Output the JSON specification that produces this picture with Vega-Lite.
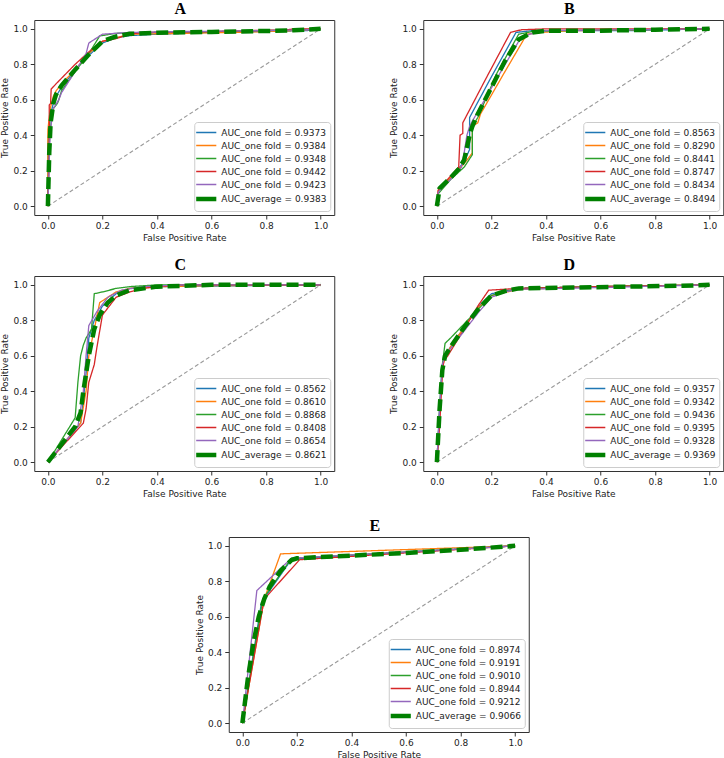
{
"$schema":"https://vega.github.io/schema/vega-lite/v6.json",
"padding":{"left":0,"top":0,"right":0,"bottom":0},
"datasets":{
"diag":[{"x":0,"y":0},{"x":1,"y":1}],
"roc":[
{"p":"A","k":0,"x":0,"y":0},{"p":"A","k":0,"x":0,"y":0.35},{"p":"A","k":0,"x":0.005,"y":0.45},{"p":"A","k":0,"x":0.01,"y":0.52},{"p":"A","k":0,"x":0.02,"y":0.58},{"p":"A","k":0,"x":0.03,"y":0.62},{"p":"A","k":0,"x":0.05,"y":0.67},{"p":"A","k":0,"x":0.1,"y":0.77},{"p":"A","k":0,"x":0.15,"y":0.85},{"p":"A","k":0,"x":0.2,"y":0.92},{"p":"A","k":0,"x":0.25,"y":0.95},{"p":"A","k":0,"x":0.3,"y":0.962},{"p":"A","k":0,"x":0.4,"y":0.97},{"p":"A","k":0,"x":0.6,"y":0.98},{"p":"A","k":0,"x":0.8,"y":0.985},{"p":"A","k":0,"x":0.95,"y":0.99},{"p":"A","k":0,"x":1,"y":1},
{"p":"A","k":1,"x":0,"y":0},{"p":"A","k":1,"x":0,"y":0.43},{"p":"A","k":1,"x":0.005,"y":0.5},{"p":"A","k":1,"x":0.01,"y":0.56},{"p":"A","k":1,"x":0.02,"y":0.62},{"p":"A","k":1,"x":0.03,"y":0.65},{"p":"A","k":1,"x":0.05,"y":0.69},{"p":"A","k":1,"x":0.1,"y":0.77},{"p":"A","k":1,"x":0.15,"y":0.86},{"p":"A","k":1,"x":0.2,"y":0.93},{"p":"A","k":1,"x":0.25,"y":0.95},{"p":"A","k":1,"x":0.3,"y":0.97},{"p":"A","k":1,"x":0.5,"y":0.975},{"p":"A","k":1,"x":0.7,"y":0.98},{"p":"A","k":1,"x":0.9,"y":0.99},{"p":"A","k":1,"x":1,"y":1},
{"p":"A","k":2,"x":0,"y":0},{"p":"A","k":2,"x":0.003,"y":0.2},{"p":"A","k":2,"x":0.005,"y":0.35},{"p":"A","k":2,"x":0.01,"y":0.45},{"p":"A","k":2,"x":0.02,"y":0.55},{"p":"A","k":2,"x":0.035,"y":0.58},{"p":"A","k":2,"x":0.04,"y":0.6},{"p":"A","k":2,"x":0.05,"y":0.65},{"p":"A","k":2,"x":0.1,"y":0.76},{"p":"A","k":2,"x":0.15,"y":0.86},{"p":"A","k":2,"x":0.19,"y":0.96},{"p":"A","k":2,"x":0.25,"y":0.975},{"p":"A","k":2,"x":0.4,"y":0.98},{"p":"A","k":2,"x":0.6,"y":0.985},{"p":"A","k":2,"x":0.8,"y":0.99},{"p":"A","k":2,"x":1,"y":1},
{"p":"A","k":3,"x":0,"y":0},{"p":"A","k":3,"x":0.005,"y":0.3},{"p":"A","k":3,"x":0.005,"y":0.57},{"p":"A","k":3,"x":0.01,"y":0.58},{"p":"A","k":3,"x":0.012,"y":0.66},{"p":"A","k":3,"x":0.03,"y":0.69},{"p":"A","k":3,"x":0.1,"y":0.8},{"p":"A","k":3,"x":0.15,"y":0.87},{"p":"A","k":3,"x":0.2,"y":0.93},{"p":"A","k":3,"x":0.25,"y":0.945},{"p":"A","k":3,"x":0.3,"y":0.97},{"p":"A","k":3,"x":0.35,"y":0.98},{"p":"A","k":3,"x":0.6,"y":0.985},{"p":"A","k":3,"x":0.88,"y":0.995},{"p":"A","k":3,"x":0.9,"y":1},{"p":"A","k":3,"x":1,"y":1},
{"p":"A","k":4,"x":0,"y":0},{"p":"A","k":4,"x":0.003,"y":0.15},{"p":"A","k":4,"x":0.008,"y":0.4},{"p":"A","k":4,"x":0.015,"y":0.5},{"p":"A","k":4,"x":0.02,"y":0.55},{"p":"A","k":4,"x":0.04,"y":0.6},{"p":"A","k":4,"x":0.05,"y":0.64},{"p":"A","k":4,"x":0.1,"y":0.76},{"p":"A","k":4,"x":0.14,"y":0.86},{"p":"A","k":4,"x":0.15,"y":0.92},{"p":"A","k":4,"x":0.2,"y":0.97},{"p":"A","k":4,"x":0.3,"y":0.98},{"p":"A","k":4,"x":0.5,"y":0.985},{"p":"A","k":4,"x":0.8,"y":0.99},{"p":"A","k":4,"x":0.95,"y":0.995},{"p":"A","k":4,"x":1,"y":1},
{"p":"A","k":5,"x":0,"y":0},{"p":"A","k":5,"x":0.005,"y":0.3},{"p":"A","k":5,"x":0.01,"y":0.47},{"p":"A","k":5,"x":0.02,"y":0.58},{"p":"A","k":5,"x":0.03,"y":0.63},{"p":"A","k":5,"x":0.05,"y":0.68},{"p":"A","k":5,"x":0.1,"y":0.77},{"p":"A","k":5,"x":0.15,"y":0.855},{"p":"A","k":5,"x":0.2,"y":0.93},{"p":"A","k":5,"x":0.25,"y":0.957},{"p":"A","k":5,"x":0.3,"y":0.972},{"p":"A","k":5,"x":0.4,"y":0.978},{"p":"A","k":5,"x":0.6,"y":0.983},{"p":"A","k":5,"x":0.8,"y":0.988},{"p":"A","k":5,"x":0.9,"y":0.992},{"p":"A","k":5,"x":1,"y":1},

{"p":"B","k":0,"x":0,"y":0},{"p":"B","k":0,"x":0.005,"y":0.08},{"p":"B","k":0,"x":0.05,"y":0.16},{"p":"B","k":0,"x":0.1,"y":0.25},{"p":"B","k":0,"x":0.12,"y":0.32},{"p":"B","k":0,"x":0.12,"y":0.5},{"p":"B","k":0,"x":0.2,"y":0.73},{"p":"B","k":0,"x":0.29,"y":0.98},{"p":"B","k":0,"x":0.35,"y":0.99},{"p":"B","k":0,"x":0.7,"y":0.99},{"p":"B","k":0,"x":1,"y":1},
{"p":"B","k":1,"x":0,"y":0},{"p":"B","k":1,"x":0.005,"y":0.09},{"p":"B","k":1,"x":0.05,"y":0.16},{"p":"B","k":1,"x":0.1,"y":0.24},{"p":"B","k":1,"x":0.13,"y":0.3},{"p":"B","k":1,"x":0.13,"y":0.45},{"p":"B","k":1,"x":0.15,"y":0.47},{"p":"B","k":1,"x":0.16,"y":0.52},{"p":"B","k":1,"x":0.25,"y":0.76},{"p":"B","k":1,"x":0.33,"y":0.97},{"p":"B","k":1,"x":0.38,"y":0.98},{"p":"B","k":1,"x":0.5,"y":0.99},{"p":"B","k":1,"x":1,"y":1},
{"p":"B","k":2,"x":0,"y":0},{"p":"B","k":2,"x":0.005,"y":0.07},{"p":"B","k":2,"x":0.05,"y":0.15},{"p":"B","k":2,"x":0.1,"y":0.22},{"p":"B","k":2,"x":0.13,"y":0.29},{"p":"B","k":2,"x":0.13,"y":0.45},{"p":"B","k":2,"x":0.15,"y":0.5},{"p":"B","k":2,"x":0.22,"y":0.75},{"p":"B","k":2,"x":0.3,"y":0.97},{"p":"B","k":2,"x":0.35,"y":0.985},{"p":"B","k":2,"x":0.45,"y":0.99},{"p":"B","k":2,"x":1,"y":1},
{"p":"B","k":3,"x":0,"y":0},{"p":"B","k":3,"x":0.005,"y":0.09},{"p":"B","k":3,"x":0.05,"y":0.17},{"p":"B","k":3,"x":0.08,"y":0.22},{"p":"B","k":3,"x":0.085,"y":0.4},{"p":"B","k":3,"x":0.095,"y":0.41},{"p":"B","k":3,"x":0.095,"y":0.47},{"p":"B","k":3,"x":0.18,"y":0.72},{"p":"B","k":3,"x":0.27,"y":0.98},{"p":"B","k":3,"x":0.31,"y":0.995},{"p":"B","k":3,"x":0.4,"y":1},{"p":"B","k":3,"x":1,"y":1},
{"p":"B","k":4,"x":0,"y":0},{"p":"B","k":4,"x":0.005,"y":0.08},{"p":"B","k":4,"x":0.05,"y":0.15},{"p":"B","k":4,"x":0.09,"y":0.22},{"p":"B","k":4,"x":0.1,"y":0.3},{"p":"B","k":4,"x":0.11,"y":0.4},{"p":"B","k":4,"x":0.12,"y":0.45},{"p":"B","k":4,"x":0.13,"y":0.48},{"p":"B","k":4,"x":0.22,"y":0.72},{"p":"B","k":4,"x":0.3,"y":0.93},{"p":"B","k":4,"x":0.34,"y":0.97},{"p":"B","k":4,"x":0.4,"y":0.99},{"p":"B","k":4,"x":1,"y":1},
{"p":"B","k":5,"x":0,"y":0},{"p":"B","k":5,"x":0.01,"y":0.1},{"p":"B","k":5,"x":0.05,"y":0.16},{"p":"B","k":5,"x":0.08,"y":0.21},{"p":"B","k":5,"x":0.1,"y":0.26},{"p":"B","k":5,"x":0.12,"y":0.4},{"p":"B","k":5,"x":0.13,"y":0.45},{"p":"B","k":5,"x":0.15,"y":0.52},{"p":"B","k":5,"x":0.2,"y":0.67},{"p":"B","k":5,"x":0.25,"y":0.82},{"p":"B","k":5,"x":0.3,"y":0.94},{"p":"B","k":5,"x":0.35,"y":0.98},{"p":"B","k":5,"x":0.4,"y":0.99},{"p":"B","k":5,"x":0.6,"y":0.99},{"p":"B","k":5,"x":0.8,"y":0.995},{"p":"B","k":5,"x":1,"y":1},

{"p":"C","k":0,"x":0,"y":0},{"p":"C","k":0,"x":0.12,"y":0.22},{"p":"C","k":0,"x":0.13,"y":0.35},{"p":"C","k":0,"x":0.14,"y":0.5},{"p":"C","k":0,"x":0.15,"y":0.7},{"p":"C","k":0,"x":0.17,"y":0.8},{"p":"C","k":0,"x":0.2,"y":0.88},{"p":"C","k":0,"x":0.25,"y":0.95},{"p":"C","k":0,"x":0.3,"y":0.98},{"p":"C","k":0,"x":0.4,"y":0.99},{"p":"C","k":0,"x":1,"y":1},
{"p":"C","k":1,"x":0,"y":0},{"p":"C","k":1,"x":0.12,"y":0.22},{"p":"C","k":1,"x":0.14,"y":0.4},{"p":"C","k":1,"x":0.15,"y":0.6},{"p":"C","k":1,"x":0.17,"y":0.75},{"p":"C","k":1,"x":0.19,"y":0.9},{"p":"C","k":1,"x":0.25,"y":0.96},{"p":"C","k":1,"x":0.3,"y":0.98},{"p":"C","k":1,"x":0.4,"y":0.99},{"p":"C","k":1,"x":0.6,"y":0.995},{"p":"C","k":1,"x":1,"y":1},
{"p":"C","k":2,"x":0,"y":0},{"p":"C","k":2,"x":0.1,"y":0.25},{"p":"C","k":2,"x":0.11,"y":0.45},{"p":"C","k":2,"x":0.12,"y":0.6},{"p":"C","k":2,"x":0.13,"y":0.66},{"p":"C","k":2,"x":0.14,"y":0.7},{"p":"C","k":2,"x":0.16,"y":0.75},{"p":"C","k":2,"x":0.17,"y":0.95},{"p":"C","k":2,"x":0.2,"y":0.96},{"p":"C","k":2,"x":0.25,"y":0.98},{"p":"C","k":2,"x":0.3,"y":0.99},{"p":"C","k":2,"x":0.4,"y":1},{"p":"C","k":2,"x":1,"y":1},
{"p":"C","k":3,"x":0,"y":0},{"p":"C","k":3,"x":0.13,"y":0.22},{"p":"C","k":3,"x":0.14,"y":0.3},{"p":"C","k":3,"x":0.15,"y":0.45},{"p":"C","k":3,"x":0.17,"y":0.55},{"p":"C","k":3,"x":0.18,"y":0.65},{"p":"C","k":3,"x":0.2,"y":0.83},{"p":"C","k":3,"x":0.22,"y":0.87},{"p":"C","k":3,"x":0.25,"y":0.93},{"p":"C","k":3,"x":0.3,"y":0.96},{"p":"C","k":3,"x":0.35,"y":0.98},{"p":"C","k":3,"x":0.4,"y":0.99},{"p":"C","k":3,"x":0.5,"y":1},{"p":"C","k":3,"x":1,"y":1},
{"p":"C","k":4,"x":0,"y":0},{"p":"C","k":4,"x":0.11,"y":0.2},{"p":"C","k":4,"x":0.13,"y":0.4},{"p":"C","k":4,"x":0.14,"y":0.6},{"p":"C","k":4,"x":0.15,"y":0.77},{"p":"C","k":4,"x":0.18,"y":0.85},{"p":"C","k":4,"x":0.22,"y":0.93},{"p":"C","k":4,"x":0.27,"y":0.97},{"p":"C","k":4,"x":0.35,"y":0.99},{"p":"C","k":4,"x":0.5,"y":1},{"p":"C","k":4,"x":1,"y":1},
{"p":"C","k":5,"x":0,"y":0},{"p":"C","k":5,"x":0.05,"y":0.1},{"p":"C","k":5,"x":0.1,"y":0.2},{"p":"C","k":5,"x":0.12,"y":0.28},{"p":"C","k":5,"x":0.13,"y":0.4},{"p":"C","k":5,"x":0.14,"y":0.5},{"p":"C","k":5,"x":0.15,"y":0.6},{"p":"C","k":5,"x":0.17,"y":0.75},{"p":"C","k":5,"x":0.19,"y":0.83},{"p":"C","k":5,"x":0.22,"y":0.9},{"p":"C","k":5,"x":0.25,"y":0.94},{"p":"C","k":5,"x":0.3,"y":0.97},{"p":"C","k":5,"x":0.4,"y":0.99},{"p":"C","k":5,"x":0.6,"y":1},{"p":"C","k":5,"x":1,"y":1},

{"p":"D","k":0,"x":0,"y":0},{"p":"D","k":0,"x":0.01,"y":0.3},{"p":"D","k":0,"x":0.02,"y":0.55},{"p":"D","k":0,"x":0.03,"y":0.6},{"p":"D","k":0,"x":0.05,"y":0.65},{"p":"D","k":0,"x":0.1,"y":0.76},{"p":"D","k":0,"x":0.16,"y":0.89},{"p":"D","k":0,"x":0.2,"y":0.95},{"p":"D","k":0,"x":0.3,"y":0.98},{"p":"D","k":0,"x":0.6,"y":0.99},{"p":"D","k":0,"x":1,"y":1},
{"p":"D","k":1,"x":0,"y":0},{"p":"D","k":1,"x":0.01,"y":0.28},{"p":"D","k":1,"x":0.02,"y":0.53},{"p":"D","k":1,"x":0.03,"y":0.59},{"p":"D","k":1,"x":0.05,"y":0.65},{"p":"D","k":1,"x":0.1,"y":0.76},{"p":"D","k":1,"x":0.15,"y":0.87},{"p":"D","k":1,"x":0.2,"y":0.94},{"p":"D","k":1,"x":0.3,"y":0.975},{"p":"D","k":1,"x":0.6,"y":0.99},{"p":"D","k":1,"x":1,"y":1},
{"p":"D","k":2,"x":0,"y":0},{"p":"D","k":2,"x":0.01,"y":0.3},{"p":"D","k":2,"x":0.02,"y":0.55},{"p":"D","k":2,"x":0.03,"y":0.67},{"p":"D","k":2,"x":0.05,"y":0.7},{"p":"D","k":2,"x":0.1,"y":0.78},{"p":"D","k":2,"x":0.15,"y":0.86},{"p":"D","k":2,"x":0.2,"y":0.94},{"p":"D","k":2,"x":0.25,"y":0.96},{"p":"D","k":2,"x":0.3,"y":0.98},{"p":"D","k":2,"x":0.6,"y":0.99},{"p":"D","k":2,"x":1,"y":1},
{"p":"D","k":3,"x":0,"y":0},{"p":"D","k":3,"x":0.01,"y":0.2},{"p":"D","k":3,"x":0.02,"y":0.5},{"p":"D","k":3,"x":0.025,"y":0.57},{"p":"D","k":3,"x":0.04,"y":0.6},{"p":"D","k":3,"x":0.1,"y":0.75},{"p":"D","k":3,"x":0.15,"y":0.88},{"p":"D","k":3,"x":0.19,"y":0.97},{"p":"D","k":3,"x":0.3,"y":0.98},{"p":"D","k":3,"x":0.6,"y":0.99},{"p":"D","k":3,"x":1,"y":1},
{"p":"D","k":4,"x":0,"y":0},{"p":"D","k":4,"x":0.01,"y":0.3},{"p":"D","k":4,"x":0.02,"y":0.55},{"p":"D","k":4,"x":0.03,"y":0.6},{"p":"D","k":4,"x":0.05,"y":0.64},{"p":"D","k":4,"x":0.1,"y":0.74},{"p":"D","k":4,"x":0.15,"y":0.84},{"p":"D","k":4,"x":0.2,"y":0.93},{"p":"D","k":4,"x":0.25,"y":0.96},{"p":"D","k":4,"x":0.3,"y":0.975},{"p":"D","k":4,"x":0.6,"y":0.985},{"p":"D","k":4,"x":1,"y":1},
{"p":"D","k":5,"x":0,"y":0},{"p":"D","k":5,"x":0.01,"y":0.3},{"p":"D","k":5,"x":0.02,"y":0.52},{"p":"D","k":5,"x":0.03,"y":0.6},{"p":"D","k":5,"x":0.05,"y":0.65},{"p":"D","k":5,"x":0.1,"y":0.76},{"p":"D","k":5,"x":0.15,"y":0.86},{"p":"D","k":5,"x":0.2,"y":0.94},{"p":"D","k":5,"x":0.25,"y":0.965},{"p":"D","k":5,"x":0.3,"y":0.98},{"p":"D","k":5,"x":0.5,"y":0.985},{"p":"D","k":5,"x":0.7,"y":0.99},{"p":"D","k":5,"x":0.9,"y":0.995},{"p":"D","k":5,"x":1,"y":1},

{"p":"E","k":0,"x":0,"y":0},{"p":"E","k":0,"x":0.07,"y":0.68},{"p":"E","k":0,"x":0.18,"y":0.925},{"p":"E","k":0,"x":1,"y":1},
{"p":"E","k":1,"x":0,"y":0},{"p":"E","k":1,"x":0.08,"y":0.7},{"p":"E","k":1,"x":0.14,"y":0.955},{"p":"E","k":1,"x":1,"y":1},
{"p":"E","k":2,"x":0,"y":0},{"p":"E","k":2,"x":0.075,"y":0.7},{"p":"E","k":2,"x":0.18,"y":0.93},{"p":"E","k":2,"x":1,"y":1},
{"p":"E","k":3,"x":0,"y":0},{"p":"E","k":3,"x":0.08,"y":0.7},{"p":"E","k":3,"x":0.21,"y":0.922},{"p":"E","k":3,"x":1,"y":1},
{"p":"E","k":4,"x":0,"y":0},{"p":"E","k":4,"x":0.053,"y":0.748},{"p":"E","k":4,"x":0.18,"y":0.93},{"p":"E","k":4,"x":1,"y":1},
{"p":"E","k":5,"x":0,"y":0},{"p":"E","k":5,"x":0.02,"y":0.25},{"p":"E","k":5,"x":0.04,"y":0.45},{"p":"E","k":5,"x":0.06,"y":0.6},{"p":"E","k":5,"x":0.08,"y":0.7},{"p":"E","k":5,"x":0.1,"y":0.77},{"p":"E","k":5,"x":0.14,"y":0.86},{"p":"E","k":5,"x":0.18,"y":0.92},{"p":"E","k":5,"x":0.2,"y":0.93},{"p":"E","k":5,"x":0.4,"y":0.945},{"p":"E","k":5,"x":0.6,"y":0.96},{"p":"E","k":5,"x":0.8,"y":0.978},{"p":"E","k":5,"x":1,"y":1}
]},
"vconcat":[
{"vconcat":[
{"hconcat":[
{"title":"A","width":300,"height":195,"layer":[
{"data":{"name":"diag"},"mark":{"type":"line","color":"#999","strokeWidth":1.1,"strokeDash":[4,2.5]},"encoding":{"x":{"field":"x","type":"quantitative","scale":{"domain":[-0.05,1.05],"nice":false,"zero":false},"axis":{"title":"False Positive Rate","values":[0,0.2,0.4,0.6,0.8,1],"format":".1f","labelOverlap":false}},"y":{"field":"y","type":"quantitative","scale":{"domain":[-0.05,1.05],"nice":false,"zero":false},"axis":{"title":"True Positive Rate","values":[0,0.2,0.4,0.6,0.8,1],"format":".1f","labelOverlap":false}}}},
{"data":{"name":"roc"},"transform":[{"filter":"datum.p=='A'"}],"mark":{"type":"line"},"encoding":{
"x":{"field":"x","type":"quantitative","axis":{"title":"False Positive Rate","values":[0,0.2,0.4,0.6,0.8,1],"format":".1f","labelOverlap":false}},"y":{"field":"y","type":"quantitative","axis":{"title":"True Positive Rate","values":[0,0.2,0.4,0.6,0.8,1],"format":".1f","labelOverlap":false}},
"order":[{"field":"x"},{"field":"y"}],
"color":{"field":"k","type":"ordinal","scale":{"type":"ordinal","domain":[0,1,2,3,4,5],"range":["#1f77b4","#ff7f0e","#2ca02c","#d62728","#9467bd","#008000"]},"legend":{"title":null,"labelExpr":"['AUC_one fold = 0.9373','AUC_one fold = 0.9384','AUC_one fold = 0.9348','AUC_one fold = 0.9442','AUC_one fold = 0.9423','AUC_average = 0.9383'][datum.value]"}},
"strokeDash":{"field":"k","type":"ordinal","scale":{"type":"ordinal","domain":[0,1,2,3,4,5],"range":[[1,0],[1,0],[1,0],[1,0],[1,0],[12,5]]},"legend":null},
"strokeWidth":{"field":"k","type":"ordinal","scale":{"type":"ordinal","domain":[0,1,2,3,4,5],"range":[1.3,1.3,1.3,1.3,1.3,4.5]},"legend":{"title":null,"labelExpr":"['AUC_one fold = 0.9373','AUC_one fold = 0.9384','AUC_one fold = 0.9348','AUC_one fold = 0.9442','AUC_one fold = 0.9423','AUC_average = 0.9383'][datum.value]"}}}}
]},
{"title":"B","width":300,"height":195,"layer":[
{"data":{"name":"diag"},"mark":{"type":"line","color":"#999","strokeWidth":1.1,"strokeDash":[4,2.5]},"encoding":{"x":{"field":"x","type":"quantitative","scale":{"domain":[-0.05,1.05],"nice":false,"zero":false},"axis":{"title":"False Positive Rate","values":[0,0.2,0.4,0.6,0.8,1],"format":".1f","labelOverlap":false}},"y":{"field":"y","type":"quantitative","scale":{"domain":[-0.05,1.05],"nice":false,"zero":false},"axis":{"title":"True Positive Rate","values":[0,0.2,0.4,0.6,0.8,1],"format":".1f","labelOverlap":false}}}},
{"data":{"name":"roc"},"transform":[{"filter":"datum.p=='B'"}],"mark":{"type":"line"},"encoding":{
"x":{"field":"x","type":"quantitative","axis":{"title":"False Positive Rate","values":[0,0.2,0.4,0.6,0.8,1],"format":".1f","labelOverlap":false}},"y":{"field":"y","type":"quantitative","axis":{"title":"True Positive Rate","values":[0,0.2,0.4,0.6,0.8,1],"format":".1f","labelOverlap":false}},
"order":[{"field":"x"},{"field":"y"}],
"color":{"field":"k","type":"ordinal","scale":{"type":"ordinal","domain":[0,1,2,3,4,5],"range":["#1f77b4","#ff7f0e","#2ca02c","#d62728","#9467bd","#008000"]},"legend":{"title":null,"labelExpr":"['AUC_one fold = 0.8563','AUC_one fold = 0.8290','AUC_one fold = 0.8441','AUC_one fold = 0.8747','AUC_one fold = 0.8434','AUC_average = 0.8494'][datum.value]"}},
"strokeDash":{"field":"k","type":"ordinal","scale":{"type":"ordinal","domain":[0,1,2,3,4,5],"range":[[1,0],[1,0],[1,0],[1,0],[1,0],[12,5]]},"legend":null},
"strokeWidth":{"field":"k","type":"ordinal","scale":{"type":"ordinal","domain":[0,1,2,3,4,5],"range":[1.3,1.3,1.3,1.3,1.3,4.5]},"legend":{"title":null,"labelExpr":"['AUC_one fold = 0.8563','AUC_one fold = 0.8290','AUC_one fold = 0.8441','AUC_one fold = 0.8747','AUC_one fold = 0.8434','AUC_average = 0.8494'][datum.value]"}}}}
]}
],"spacing":54,"resolve":{"scale":{"color":"independent","strokeDash":"independent","strokeWidth":"independent"},"legend":{"color":"independent","strokeDash":"independent","strokeWidth":"independent"}}},
{"hconcat":[
{"title":"C","width":300,"height":195,"layer":[
{"data":{"name":"diag"},"mark":{"type":"line","color":"#999","strokeWidth":1.1,"strokeDash":[4,2.5]},"encoding":{"x":{"field":"x","type":"quantitative","scale":{"domain":[-0.05,1.05],"nice":false,"zero":false},"axis":{"title":"False Positive Rate","values":[0,0.2,0.4,0.6,0.8,1],"format":".1f","labelOverlap":false}},"y":{"field":"y","type":"quantitative","scale":{"domain":[-0.05,1.05],"nice":false,"zero":false},"axis":{"title":"True Positive Rate","values":[0,0.2,0.4,0.6,0.8,1],"format":".1f","labelOverlap":false}}}},
{"data":{"name":"roc"},"transform":[{"filter":"datum.p=='C'"}],"mark":{"type":"line"},"encoding":{
"x":{"field":"x","type":"quantitative","axis":{"title":"False Positive Rate","values":[0,0.2,0.4,0.6,0.8,1],"format":".1f","labelOverlap":false}},"y":{"field":"y","type":"quantitative","axis":{"title":"True Positive Rate","values":[0,0.2,0.4,0.6,0.8,1],"format":".1f","labelOverlap":false}},
"order":[{"field":"x"},{"field":"y"}],
"color":{"field":"k","type":"ordinal","scale":{"type":"ordinal","domain":[0,1,2,3,4,5],"range":["#1f77b4","#ff7f0e","#2ca02c","#d62728","#9467bd","#008000"]},"legend":{"title":null,"labelExpr":"['AUC_one fold = 0.8562','AUC_one fold = 0.8610','AUC_one fold = 0.8868','AUC_one fold = 0.8408','AUC_one fold = 0.8654','AUC_average = 0.8621'][datum.value]"}},
"strokeDash":{"field":"k","type":"ordinal","scale":{"type":"ordinal","domain":[0,1,2,3,4,5],"range":[[1,0],[1,0],[1,0],[1,0],[1,0],[12,5]]},"legend":null},
"strokeWidth":{"field":"k","type":"ordinal","scale":{"type":"ordinal","domain":[0,1,2,3,4,5],"range":[1.3,1.3,1.3,1.3,1.3,4.5]},"legend":{"title":null,"labelExpr":"['AUC_one fold = 0.8562','AUC_one fold = 0.8610','AUC_one fold = 0.8868','AUC_one fold = 0.8408','AUC_one fold = 0.8654','AUC_average = 0.8621'][datum.value]"}}}}
]},
{"title":"D","width":300,"height":195,"layer":[
{"data":{"name":"diag"},"mark":{"type":"line","color":"#999","strokeWidth":1.1,"strokeDash":[4,2.5]},"encoding":{"x":{"field":"x","type":"quantitative","scale":{"domain":[-0.05,1.05],"nice":false,"zero":false},"axis":{"title":"False Positive Rate","values":[0,0.2,0.4,0.6,0.8,1],"format":".1f","labelOverlap":false}},"y":{"field":"y","type":"quantitative","scale":{"domain":[-0.05,1.05],"nice":false,"zero":false},"axis":{"title":"True Positive Rate","values":[0,0.2,0.4,0.6,0.8,1],"format":".1f","labelOverlap":false}}}},
{"data":{"name":"roc"},"transform":[{"filter":"datum.p=='D'"}],"mark":{"type":"line"},"encoding":{
"x":{"field":"x","type":"quantitative","axis":{"title":"False Positive Rate","values":[0,0.2,0.4,0.6,0.8,1],"format":".1f","labelOverlap":false}},"y":{"field":"y","type":"quantitative","axis":{"title":"True Positive Rate","values":[0,0.2,0.4,0.6,0.8,1],"format":".1f","labelOverlap":false}},
"order":[{"field":"x"},{"field":"y"}],
"color":{"field":"k","type":"ordinal","scale":{"type":"ordinal","domain":[0,1,2,3,4,5],"range":["#1f77b4","#ff7f0e","#2ca02c","#d62728","#9467bd","#008000"]},"legend":{"title":null,"labelExpr":"['AUC_one fold = 0.9357','AUC_one fold = 0.9342','AUC_one fold = 0.9436','AUC_one fold = 0.9395','AUC_one fold = 0.9328','AUC_average = 0.9369'][datum.value]"}},
"strokeDash":{"field":"k","type":"ordinal","scale":{"type":"ordinal","domain":[0,1,2,3,4,5],"range":[[1,0],[1,0],[1,0],[1,0],[1,0],[12,5]]},"legend":null},
"strokeWidth":{"field":"k","type":"ordinal","scale":{"type":"ordinal","domain":[0,1,2,3,4,5],"range":[1.3,1.3,1.3,1.3,1.3,4.5]},"legend":{"title":null,"labelExpr":"['AUC_one fold = 0.9357','AUC_one fold = 0.9342','AUC_one fold = 0.9436','AUC_one fold = 0.9395','AUC_one fold = 0.9328','AUC_average = 0.9369'][datum.value]"}}}}
]}
],"spacing":54,"resolve":{"scale":{"color":"independent","strokeDash":"independent","strokeWidth":"independent"},"legend":{"color":"independent","strokeDash":"independent","strokeWidth":"independent"}}}
],"spacing":13,"resolve":{"scale":{"color":"independent","strokeDash":"independent","strokeWidth":"independent"},"legend":{"color":"independent","strokeDash":"independent","strokeWidth":"independent"}}},
{"title":"E","width":300,"height":195,"layer":[
{"data":{"name":"diag"},"mark":{"type":"line","color":"#999","strokeWidth":1.1,"strokeDash":[4,2.5]},"encoding":{"x":{"field":"x","type":"quantitative","scale":{"domain":[-0.05,1.05],"nice":false,"zero":false},"axis":{"title":"False Positive Rate","values":[0,0.2,0.4,0.6,0.8,1],"format":".1f","labelOverlap":false}},"y":{"field":"y","type":"quantitative","scale":{"domain":[-0.05,1.05],"nice":false,"zero":false},"axis":{"title":"True Positive Rate","values":[0,0.2,0.4,0.6,0.8,1],"format":".1f","labelOverlap":false}}}},
{"data":{"name":"roc"},"transform":[{"filter":"datum.p=='E'"}],"mark":{"type":"line"},"encoding":{
"x":{"field":"x","type":"quantitative","axis":{"title":"False Positive Rate","values":[0,0.2,0.4,0.6,0.8,1],"format":".1f","labelOverlap":false}},"y":{"field":"y","type":"quantitative","axis":{"title":"True Positive Rate","values":[0,0.2,0.4,0.6,0.8,1],"format":".1f","labelOverlap":false}},
"order":[{"field":"x"},{"field":"y"}],
"color":{"field":"k","type":"ordinal","scale":{"type":"ordinal","domain":[0,1,2,3,4,5],"range":["#1f77b4","#ff7f0e","#2ca02c","#d62728","#9467bd","#008000"]},"legend":{"title":null,"labelExpr":"['AUC_one fold = 0.8974','AUC_one fold = 0.9191','AUC_one fold = 0.9010','AUC_one fold = 0.8944','AUC_one fold = 0.9212','AUC_average = 0.9066'][datum.value]"}},
"strokeDash":{"field":"k","type":"ordinal","scale":{"type":"ordinal","domain":[0,1,2,3,4,5],"range":[[1,0],[1,0],[1,0],[1,0],[1,0],[12,5]]},"legend":null},
"strokeWidth":{"field":"k","type":"ordinal","scale":{"type":"ordinal","domain":[0,1,2,3,4,5],"range":[1.3,1.3,1.3,1.3,1.3,4.5]},"legend":{"title":null,"labelExpr":"['AUC_one fold = 0.8974','AUC_one fold = 0.9191','AUC_one fold = 0.9010','AUC_one fold = 0.8944','AUC_one fold = 0.9212','AUC_average = 0.9066'][datum.value]"}}}}
]}
],
"spacing":18,"center":true,
"resolve":{"scale":{"color":"independent","strokeDash":"independent","strokeWidth":"independent"},"legend":{"color":"independent","strokeDash":"independent","strokeWidth":"independent"}},
"config":{
"view":{"stroke":"#333","strokeWidth":1},
"font":"DejaVu Sans",
"line":{"strokeCap":"butt"},
"axis":{"domain":false,"grid":false,"tickColor":"#333","tickSize":4,"tickWidth":1,"labelFont":"DejaVu Sans","labelFontSize":9,"labelColor":"#222","labelPadding":2,"labelOverlap":false,"labelFlush":false,"titleFont":"DejaVu Sans","titleFontSize":9,"titleFontWeight":"normal","titleColor":"#222","titlePadding":3},
"axisY":{"labelPadding":3},
"legend":{"orient":"bottom-right","offset":4,"padding":3,"strokeColor":"#ccc","fillColor":"white","cornerRadius":3,"labelFont":"DejaVu Sans","labelFontSize":9,"labelColor":"#222","labelLimit":300,"symbolType":"M-1.5,0H1.5H-1.5","symbolSize":180,"rowPadding":0,"labelOffset":6},
"title":{"font":"Liberation Serif","fontSize":16,"fontWeight":"bold","color":"#000","anchor":"middle","frame":"group","offset":3,"dx":-4}
}
}
